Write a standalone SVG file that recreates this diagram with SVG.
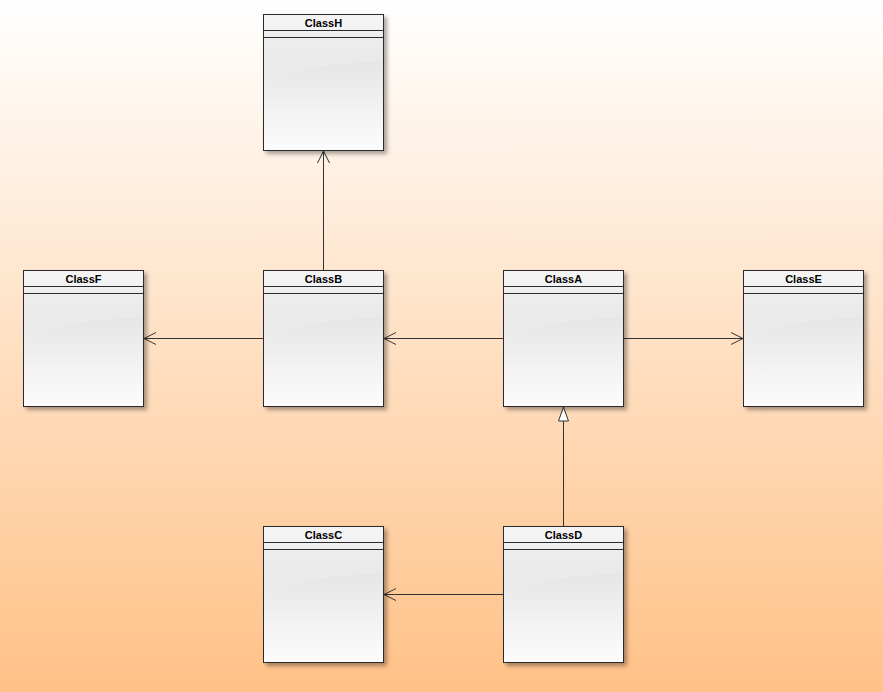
<svg xmlns="http://www.w3.org/2000/svg" width="883" height="692" viewBox="0 0 883 692">
<defs>
<linearGradient id="bg" x1="0" y1="0" x2="0" y2="1">
<stop offset="0" stop-color="#FFFFFF"/>
<stop offset="1" stop-color="#FFC187"/>
</linearGradient>
<linearGradient id="body" x1="0" y1="0" x2="0" y2="1">
<stop offset="0" stop-color="#E6E6E6"/>
<stop offset="0.3" stop-color="#E4E4E4"/>
<stop offset="1" stop-color="#FCFCFC"/>
</linearGradient>
<linearGradient id="gloss" x1="0" y1="0" x2="0" y2="1">
<stop offset="0" stop-color="#FFFFFF" stop-opacity="0.5"/>
<stop offset="1" stop-color="#FFFFFF" stop-opacity="0"/>
</linearGradient>
<filter id="sh" x="-10%" y="-10%" width="130%" height="130%">
<feGaussianBlur in="SourceAlpha" stdDeviation="2"/>
<feOffset dx="3" dy="3"/>
<feComponentTransfer><feFuncA type="linear" slope="0.35"/></feComponentTransfer>
<feMerge><feMergeNode/><feMergeNode in="SourceGraphic"/></feMerge>
</filter>
<marker id="open" markerWidth="16" markerHeight="14" refX="14" refY="7" orient="auto" markerUnits="userSpaceOnUse">
<path d="M2,1 L14,7 L2,13" fill="none" stroke="#333" stroke-width="1"/>
</marker>
<marker id="tri" markerWidth="16" markerHeight="14" refX="15" refY="6" orient="auto" markerUnits="userSpaceOnUse">
<path d="M1,1 L15,6 L1,11 Z" fill="#FFFFFF" stroke="#333" stroke-width="1"/>
</marker>
<g id="cls">
<rect x="0" y="0" width="120" height="136" fill="url(#body)" stroke="#2B2B2B" stroke-width="1" filter="url(#sh)"/>
<rect x="0.5" y="0.5" width="119" height="16" fill="#EAEAEA"/>
<path d="M0.5,75 Q20,50 119.5,47 L119.5,0.5 L0.5,0.5 Z" fill="url(#gloss)"/>
<rect x="0" y="0" width="120" height="136" fill="none" stroke="#2B2B2B" stroke-width="1"/>
<line x1="0" y1="16" x2="120" y2="16" stroke="#2B2B2B" stroke-width="1"/>
<line x1="0" y1="23" x2="120" y2="23" stroke="#2B2B2B" stroke-width="1"/>
</g>
</defs>
<style>
.t{font-family:"Liberation Sans",Arial,sans-serif;font-size:11px;font-weight:bold;fill:#000;text-anchor:middle}
.c{stroke:#333;stroke-width:1;fill:none}
</style>
<rect x="0" y="0" width="883" height="692" fill="url(#bg)"/>
<g id="connectors">
<line class="c" x1="323.5" y1="270" x2="323.5" y2="151" marker-end="url(#open)"/>
<line class="c" x1="263" y1="338.5" x2="144" y2="338.5" marker-end="url(#open)"/>
<line class="c" x1="503" y1="338.5" x2="384" y2="338.5" marker-end="url(#open)"/>
<line class="c" x1="623" y1="338.5" x2="743" y2="338.5" marker-end="url(#open)"/>
<line class="c" x1="563.5" y1="526" x2="563.5" y2="407" marker-end="url(#tri)"/>
<line class="c" x1="503" y1="594.5" x2="384" y2="594.5" marker-end="url(#open)"/>
</g>
<g id="ClassH" transform="translate(263.5,14.5)"><use href="#cls"/><text class="t" x="60" y="12">ClassH</text></g>
<g id="ClassF" transform="translate(23.5,270.5)"><use href="#cls"/><text class="t" x="60" y="12">ClassF</text></g>
<g id="ClassB" transform="translate(263.5,270.5)"><use href="#cls"/><text class="t" x="60" y="12">ClassB</text></g>
<g id="ClassA" transform="translate(503.5,270.5)"><use href="#cls"/><text class="t" x="60" y="12">ClassA</text></g>
<g id="ClassE" transform="translate(743.5,270.5)"><use href="#cls"/><text class="t" x="60" y="12">ClassE</text></g>
<g id="ClassC" transform="translate(263.5,526.5)"><use href="#cls"/><text class="t" x="60" y="12">ClassC</text></g>
<g id="ClassD" transform="translate(503.5,526.5)"><use href="#cls"/><text class="t" x="60" y="12">ClassD</text></g>
</svg>
